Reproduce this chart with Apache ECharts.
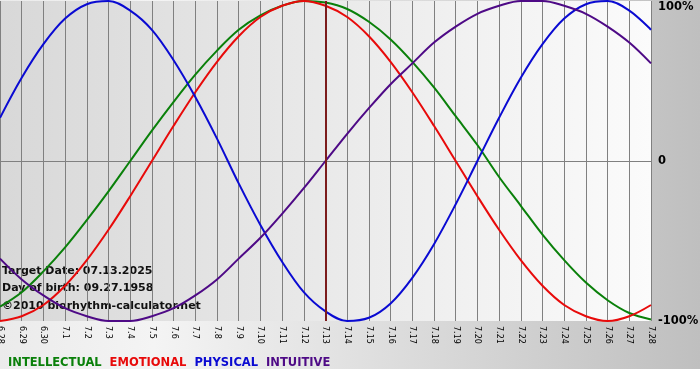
<!DOCTYPE html>
<html>
<head>
    <meta charset="utf-8">
    <title>Biorhythm</title>
    <script src="https://cdn.jsdelivr.net/npm/echarts@6/dist/echarts.min.js"></script>
</head>
<style>
html,
body {
    margin: 0px;
    width: 100%;
    height: 100%;
    background: #fff;
}
div#main {
    position: absolute;
    left: 0;
    top: 0;
    width: 700px;
    height: 380px;
    background: linear-gradient(to right, #ebebeb 0%, #f4f4f4 22%, #bfbfbf 100%) no-repeat;
    background-size: 700px 369px;
}
</style>
<body>
    <div id="main"></div>
    <script type="text/javascript">
        // days shown
        var days = ['6.28', '6.29', '6.30', '7.1', '7.2', '7.3', '7.4', '7.5', '7.6', '7.7', '7.8',
            '7.9', '7.10', '7.11', '7.12', '7.13', '7.14', '7.15', '7.16', '7.17', '7.18',
            '7.19', '7.20', '7.21', '7.22', '7.23', '7.24', '7.25', '7.26', '7.27', '7.28'];

        // values in %
        var intellectual = [-91, -82, -69, -54, -37, -19, 0, 19, 37, 54, 69, 82, 91, 97, 100, 99,
            95, 87, 76, 62, 46, 28, 10, -10, -28, -46, -62, -76, -87, -95, -99];
        var emotional = [-100, -97, -90, -78, -62, -43, -22, 0, 22, 43, 62, 78, 90, 97, 100, 97,
            90, 78, 62, 43, 22, 0, -22, -43, -62, -78, -90, -97, -100, -97, -90];
        var physical = [27, 52, 73, 89, 98, 100, 94, 82, 63, 40, 14, -14, -40, -63, -82, -94,
            -100, -98, -89, -73, -52, -27, 0, 27, 52, 73, 89, 98, 100, 94, 82];
        var intuitive = [-61, -74, -84, -92, -97, -100, -100, -97, -92, -84, -74, -61, -48, -33, -17, 0,
            17, 33, 48, 61, 74, 84, 92, 97, 100, 100, 97, 92, 84, 74, 61];

        var yTicks = [-100, 0, 100];
        var targetDay = '7.13';

        var myChart = echarts.init(document.getElementById('main'));

        function line(name, data, color) {
            return {
                name: name,
                type: 'line',
                data: data,
                smooth: 0.35,
                symbol: 'none',
                lineStyle: { color: color, width: 2 },
                itemStyle: { color: color }
            };
        }

        var series = [
            line('INTELLECTUAL', intellectual, '#0a800a'),
            line('EMOTIONAL', emotional, '#e80a0a'),
            line('PHYSICAL', physical, '#0a0ad2'),
            line('INTUITIVE', intuitive, '#4e0a86')
        ];
        series[0].markLine = {
            silent: true,
            symbol: 'none',
            label: { show: false },
            lineStyle: { color: '#7c1c1c', width: 2, type: 'solid' },
            data: [{ xAxis: targetDay }]
        };

        myChart.setOption({
            backgroundColor: 'transparent',
            animation: false,
            grid: {
                left: 0, right: 49, top: 1, bottom: 59,
                outerBoundsMode: 'none',
                containLabel: false,
                show: true,
                borderWidth: 0,
                backgroundColor: new echarts.graphic.LinearGradient(0, 0, 1, 0, [
                    { offset: 0, color: '#d8d8d8' },
                    { offset: 1, color: '#fbfbfb' }
                ])
            },
            legend: {
                left: -2,
                top: 352,
                icon: 'none',
                itemWidth: 0,
                itemHeight: 0,
                itemGap: 3,
                selectedMode: false,
                textStyle: { fontFamily: 'DejaVu Sans', fontSize: 11.5, fontWeight: 'bold' },
                data: [
                    { name: 'INTELLECTUAL', textStyle: { color: '#0a800a' } },
                    { name: 'EMOTIONAL', textStyle: { color: '#e80a0a' } },
                    { name: 'PHYSICAL', textStyle: { color: '#0a0ad2' } },
                    { name: 'INTUITIVE', textStyle: { color: '#4e0a86' } }
                ]
            },
            xAxis: {
                type: 'category',
                boundaryGap: false,
                data: days,
                axisLine: { lineStyle: { color: '#808080' } },
                axisTick: { show: true, length: 3, lineStyle: { color: '#808080' } },
                splitLine: { show: true, lineStyle: { color: '#808080', width: 1 } },
                axisLabel: {
                    interval: 0,
                    rotate: -90,
                    margin: 5,
                    color: '#000',
                    fontFamily: 'DejaVu Sans',
                    fontSize: 8
                }
            },
            yAxis: {
                type: 'value',
                position: 'right',
                min: yTicks[0],
                max: yTicks[2],
                interval: 100,
                axisLine: { show: false },
                axisTick: { show: false },
                splitLine: {
                    show: true,
                    lineStyle: { color: ['rgba(0,0,0,0)', '#808080', 'rgba(0,0,0,0)'] }
                },
                axisLabel: {
                    margin: 7,
                    color: '#000',
                    fontFamily: 'DejaVu Sans',
                    fontSize: 11.5,
                    fontWeight: 'bold',
                    verticalAlignMaxLabel: 'top',
                    formatter: function (v) {
                        return v === 0 ? '0' : v + '%';
                    }
                }
            },
            graphic: [
                {
                    type: 'group',
                    left: 2,
                    top: 266,
                    z: 100,
                    children: [
                        { type: 'text', x: 0, y: 0, style: { text: 'Target Date: 07.13.2025', fill: '#111', font: 'bold 11px DejaVu Sans' } },
                        { type: 'text', x: 0, y: 17, style: { text: 'Day of birth: 09.27.1958', fill: '#111', font: 'bold 11px DejaVu Sans' } },
                        { type: 'text', x: 0, y: 35, style: { text: '\u00a92010 biorhythm-calculator.net', fill: '#111', font: 'bold 11px DejaVu Sans' } }
                    ]
                }
            ],
            series: series
        });
    </script>
</body>
</html>
